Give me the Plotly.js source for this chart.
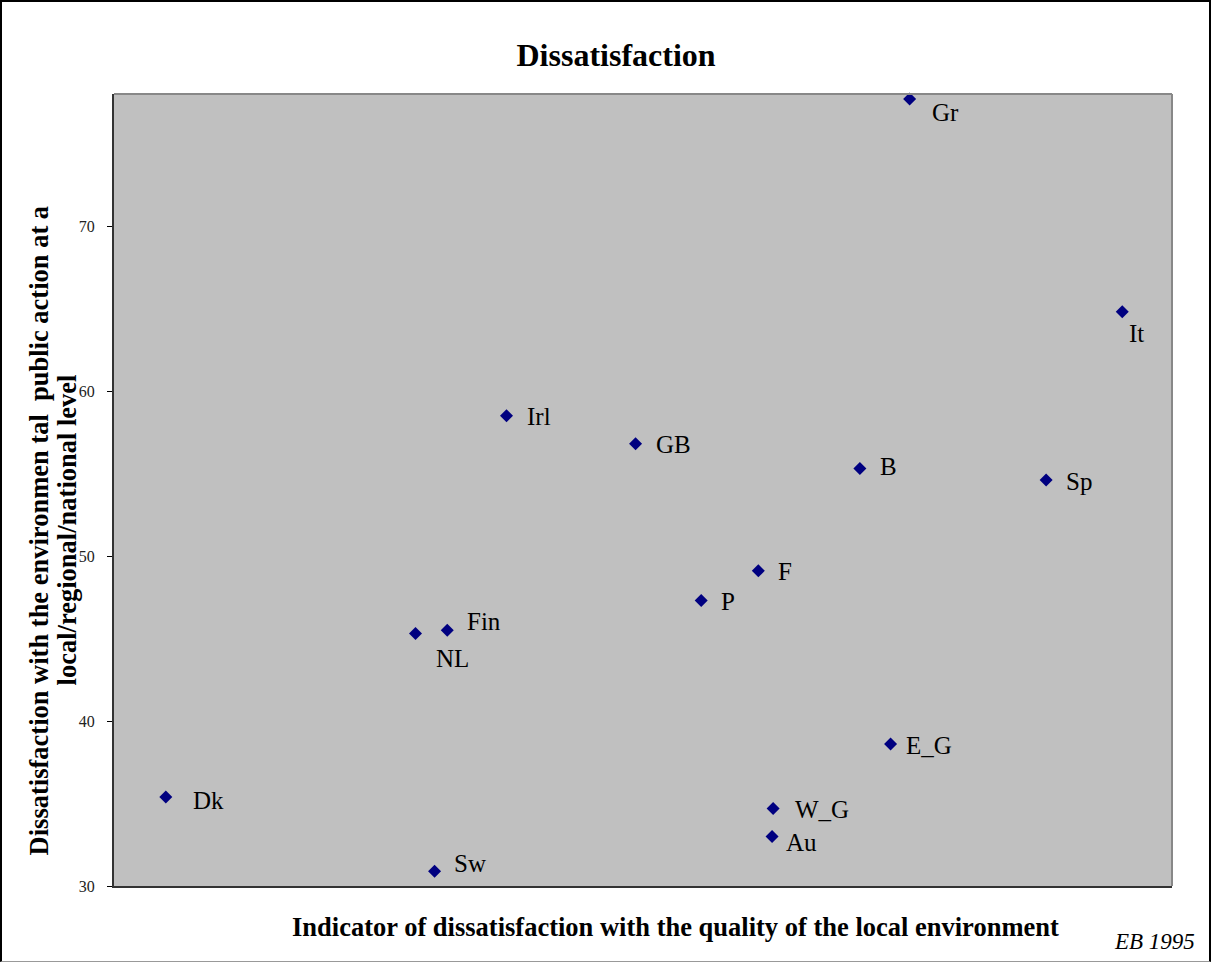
<!DOCTYPE html>
<html><head><meta charset="utf-8">
<script src="https://cdn.plot.ly/plotly-3.0.1.min.js"></script>
<style>
html,body{margin:0;padding:0;background:#fff;}
#wrap{position:relative;width:1211px;height:962px;overflow:hidden;}
#frame{position:absolute;left:0;top:0;width:1211px;height:962px;box-sizing:border-box;border-top:2px solid #000;border-left:2px solid #000;border-right:2px solid #000;border-bottom:1px solid #999;pointer-events:none;}
</style>
</head><body>
<div id="wrap"><div id="chart"></div><div id="frame"></div></div>
<script>
// ---- data ----
const countries = ['Dk','Sw','NL','Fin','Irl','GB','P','F','W_G','Au','B','E_G','Gr','It','Sp'];
const localDissatisfaction = [4.9, 30.3, 28.5, 31.5, 37.1, 49.3, 55.5, 60.9, 62.3, 62.2, 70.5, 73.4, 75.2, 95.3, 88.1];
const actionDissatisfaction = [35.4, 30.9, 45.3, 45.5, 58.5, 56.8, 47.3, 49.1, 34.7, 33.0, 55.3, 38.6, 77.7, 64.8, 54.6];
const yTickValues = [30, 40, 50, 60, 70];
const chartTitle = 'Dissatisfaction';
const xTitle = 'Indicator of dissatisfaction with the quality of the local environment';
const yTitleLines = ['Dissatisfaction with the environmen tal  public action at a', 'local/regional/national level'];
const sourceNote = 'EB 1995';

// ---- label placement (pixel offsets: text left edge, text centre below marker) ----
const labelOffsets = {
  Dk:[27,4], Sw:[19,-8], NL:[20,25], Fin:[20,-9], Irl:[20,1], GB:[20,1], P:[20,1], F:[20,1],
  W_G:[22,1.5], Au:[14,6], B:[20,-2], E_G:[15,1], Gr:[22,14], It:[7,22], Sp:[20,1]
};

const serif = '"Liberation Serif", "Times New Roman", serif';

const trace = {
  type: 'scatter', mode: 'markers',
  x: localDissatisfaction, y: actionDissatisfaction, text: countries,
  marker: {symbol: 'diamond', size: 10, color: '#000080', line: {width: 0}},
  hoverinfo: 'text+x+y', showlegend: false, cliponaxis: false
};

const annotations = countries.map((c, i) => ({
  x: localDissatisfaction[i], y: actionDissatisfaction[i], xref: 'x', yref: 'y',
  text: c, showarrow: false, xanchor: 'left', yanchor: 'middle',
  xshift: labelOffsets[c][0] - 2, yshift: -labelOffsets[c][1],
  font: {family: serif, size: 25, color: '#000'}
}));

annotations.push({
  xref: 'paper', yref: 'paper', x: 0.531, y: -0.0517, xanchor: 'center', yanchor: 'middle',
  text: '<b>' + xTitle + '</b>', showarrow: false,
  font: {family: serif, size: 26.5, color: '#000'}
});
annotations.push({
  xref: 'paper', yref: 'paper', x: 0, y: 0.449, xshift: -75, xanchor: 'center', yanchor: 'middle',
  text: '<b>' + yTitleLines[0] + '</b>', textangle: -90, showarrow: false,
  font: {family: serif, size: 26.5, color: '#000'}
});
annotations.push({
  xref: 'paper', yref: 'paper', x: 0, y: 0.449, xshift: -47, xanchor: 'center', yanchor: 'middle',
  text: '<b>' + yTitleLines[1] + '</b>', textangle: -90, showarrow: false,
  font: {family: serif, size: 26.5, color: '#000'}
});
annotations.push({
  xref: 'paper', yref: 'paper', x: 1.0236, y: -0.070, xanchor: 'right', yanchor: 'middle',
  text: '<i>' + sourceNote + '</i>', showarrow: false,
  font: {family: serif, size: 23, color: '#000'}
});

const layout = {
  width: 1211, height: 962,
  margin: {l: 114, r: 39, t: 94, b: 76, pad: 0},
  paper_bgcolor: '#ffffff', plot_bgcolor: '#c0c0c0',
  title: {text: '<b>' + chartTitle + '</b>', x: 0.5087, xref: 'container', xanchor: 'center',
          y: 1 - 55/962, yref: 'container', yanchor: 'middle',
          font: {family: serif, size: 32, color: '#000'}},
  xaxis: {range: [0, 100], showgrid: false, zeroline: false, showticklabels: false, ticks: '',
          showline: true, linecolor: '#333', linewidth: 2, fixedrange: true},
  yaxis: {range: [30, 78], tickvals: yTickValues, ticktext: yTickValues.map(String),
          showgrid: false, zeroline: false, ticks: 'outside', ticklen: 5, tickwidth: 1, tickcolor: '#000',
          ticklabelstandoff: 9,
          tickfont: {family: serif, size: 16, color: '#222'},
          showline: true, linecolor: '#333', linewidth: 2, fixedrange: true},
  shapes: [
    {type: 'line', xref: 'paper', yref: 'paper', x0: 0, x1: 1, y0: 1, y1: 1, line: {color: '#888', width: 2}},
    {type: 'line', xref: 'paper', yref: 'paper', x0: 1, x1: 1, y0: 0, y1: 1, line: {color: '#888', width: 2}}
  ],
  annotations: annotations,
  showlegend: false
};

Plotly.newPlot('chart', [trace], layout, {displayModeBar: false, staticPlot: true});
</script>
</body></html>
